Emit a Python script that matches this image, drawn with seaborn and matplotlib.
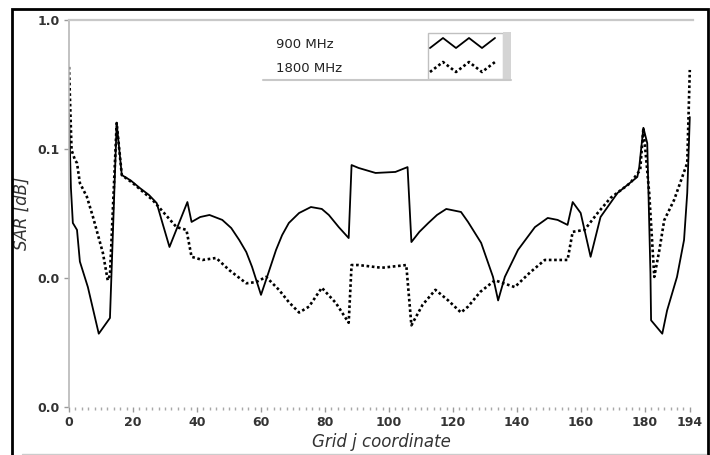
import numpy as np
import pandas as pd
import matplotlib
matplotlib.use("Agg")
import matplotlib.pyplot as plt
from matplotlib.ticker import FixedLocator, MultipleLocator, FuncFormatter, NullLocator
from matplotlib.lines import Line2D
from matplotlib.patches import Rectangle
import seaborn as sns

# SAR along the grid j coordinate for the two frequencies
j_900 = [0, 0.6, 1.2, 2.5, 3.4, 5.9, 9.3, 12.8, 14.9, 16.5, 19.3, 22.1, 25.0, 27.4,
         29.2, 31.4, 37.0, 38.3, 41.0, 43.9, 47.9, 50.7, 53.2, 55.4, 57.2, 60.0,
         61.9, 64.7, 66.6, 68.7, 71.9, 75.6, 79.0, 81.2, 84.3, 87.4, 88.3, 90.5,
         95.8, 102.0, 105.8, 107.0, 109.5, 112.3, 115.0, 117.9, 122.5, 124.7,
         128.8, 132.5, 134.1, 136.2, 140.3, 145.6, 149.6, 152.7, 155.8, 157.4,
         159.9, 163.0, 166.1, 171.4, 177.6, 178.2, 179.5, 180.7, 181.7, 181.9,
         185.4, 186.9, 190.0, 192.2, 193.2, 194]
sar_900 = [0.19, 0.05, 0.0267, 0.0236, 0.0134, 0.0085, 0.0037, 0.0049, 0.159, 0.0628,
           0.057, 0.0499, 0.044, 0.0381, 0.0267, 0.0174, 0.0388, 0.0272, 0.0297,
           0.0308, 0.0282, 0.0244, 0.0197, 0.0159, 0.0122, 0.0074, 0.0102, 0.0165,
           0.0215, 0.0267, 0.0319, 0.0355, 0.0343, 0.0308, 0.0248, 0.0204, 0.0751,
           0.0713, 0.0652, 0.0664, 0.0724, 0.0190, 0.0228, 0.0267, 0.0308, 0.0343,
           0.0325, 0.0272, 0.0187, 0.0102, 0.0067, 0.0102, 0.0165, 0.0248, 0.0292,
           0.0282, 0.0258, 0.0388, 0.0319, 0.0146, 0.0297, 0.0456, 0.0607, 0.0724,
           0.146, 0.111, 0.0109, 0.0047, 0.0037, 0.0056, 0.0102, 0.0197, 0.0456,
           0.177]

j_1800 = [0, 0.8, 1.9, 2.5, 3.4, 5.6, 7.5, 10.6, 12.1, 12.8, 14.9, 16.5, 19.9, 26.1,
          33.6, 36.7, 38.3, 41.7, 46.0, 50.1, 55.4, 58.5, 61.6, 65.6, 68.7, 71.9,
          75.0, 79.0, 83.4, 87.4, 88.3, 90.5, 97.7, 105.4, 107.0, 110.5, 114.5,
          118.5, 122.5, 124.7, 128.5, 133.1, 139.3, 144.0, 148.7, 155.8, 157.4,
          161.1, 165.2, 169.2, 175.4, 178.5, 179.5, 181.3, 182.9, 184.5, 186.0,
          189.1, 193.2, 194]
sar_1800 = [0.433, 0.098, 0.082, 0.0778, 0.0545, 0.0425, 0.0297, 0.0156, 0.0096,
            0.0105, 0.159, 0.0628, 0.0545, 0.0403, 0.0248, 0.0236, 0.0146, 0.0138,
            0.0143, 0.0115, 0.0091, 0.0093, 0.0102, 0.0081, 0.0065, 0.0054, 0.0060,
            0.0084, 0.0064, 0.0045, 0.0126, 0.0126, 0.0120, 0.0126, 0.0043, 0.0062,
            0.0081, 0.0067, 0.0054, 0.0060, 0.0078, 0.0096, 0.0085, 0.0110, 0.0138,
            0.0138, 0.0228, 0.0236, 0.0319, 0.0417, 0.0545, 0.0687, 0.146, 0.046,
            0.0102, 0.0165, 0.028, 0.0403, 0.078, 0.41]

series_labels = ["900 MHz", "1800 MHz"]
x_ticks = [0, 20, 40, 60, 80, 100, 120, 140, 160, 180, 194]
y_ticks = [0.001, 0.01, 0.1, 1.0]

sns.set_style("white")
plt.rcParams["font.family"] = ["DejaVu Sans"]

W, H = 710, 455
fig = plt.figure(figsize=(W / 100, H / 100), dpi=100)


def fpos(x, y):
    """Pixel position on the canvas -> figure fraction."""
    return x / W, 1 - y / H


ax = fig.add_axes([69 / W, 1 - 407 / H, (693 - 69) / W, (407 - 20) / H])

df_900 = pd.DataFrame({"j": j_900, "sar": sar_900})
df_1800 = pd.DataFrame({"j": j_1800, "sar": sar_1800})

sns.lineplot(data=df_900, x="j", y="sar", ax=ax, color="black", linewidth=1.3,
             sort=False, estimator=None)
sns.lineplot(data=df_1800, x="j", y="sar", ax=ax, color="black", linewidth=1.9,
             linestyle=(0, (1, 1)), sort=False, estimator=None)

ax.set_yscale("log")
ax.set_ylim(0.001, 1.0)
ax.set_xlim(0, 195)

ax.yaxis.set_major_locator(FixedLocator(y_ticks))
ax.yaxis.set_minor_locator(NullLocator())
ax.yaxis.set_major_formatter(FuncFormatter(lambda v, p: f"{v:.1f}"))
ax.xaxis.set_major_locator(FixedLocator(x_ticks))
ax.xaxis.set_minor_locator(MultipleLocator(2))
ax.xaxis.set_major_formatter(FuncFormatter(lambda v, p: f"{v:.0f}"))

ax.tick_params(axis="both", which="major", direction="out", length=3.5, width=1,
               color="#9a9a9a", labelsize=9, labelcolor="#333333", pad=3,
               left=True, bottom=True)
ax.tick_params(axis="x", which="minor", direction="out", length=2, width=1,
               color="#a8a8a8", bottom=True)
for lbl in ax.get_xticklabels() + ax.get_yticklabels():
    lbl.set_fontweight("bold")

ax.spines["right"].set_visible(False)
ax.spines["bottom"].set_visible(False)
ax.spines["left"].set_color("#b8b8b8")
ax.spines["left"].set_linewidth(1.2)
ax.spines["top"].set_color("#c8c8c8")
ax.spines["top"].set_linewidth(1.6)

ax.set_xlabel("Grid j coordinate", fontstyle="italic", fontsize=12,
              color="#333333", labelpad=3)
ax.set_ylabel("SAR [dB]", fontstyle="italic", fontsize=12,
              color="#333333", labelpad=5)

# Legend panel: labels on the left, line samples in a boxed strip on the right
fig.add_artist(Line2D(*zip(fpos(263, 80), fpos(511, 80)), color="#c8c8c8", lw=1.5))
x0, y0 = fpos(428, 79)
x1, y1 = fpos(503, 33)
fig.add_artist(Rectangle((x0, y0), x1 - x0, y1 - y0, facecolor="white",
                         edgecolor="#c0c0c0", lw=1))
sx0, sy0 = fpos(503, 80)
sx1, sy1 = fpos(511, 32)
fig.add_artist(Rectangle((sx0, sy0), sx1 - sx0, sy1 - sy0, facecolor="#d4d4d4",
                         edgecolor="none"))

zig_x = np.linspace(430, 495, 6)
for label, ty, hi, lo, style, lw in [
        (series_labels[0], 44, 38, 48, "-", 1.3),
        (series_labels[1], 69, 62, 72, (0, (1, 1)), 1.9)]:
    fig.text(*fpos(276, ty), label, fontsize=9.5, color="#222222",
             ha="left", va="center")
    zy = [lo if i % 2 == 0 else hi for i in range(len(zig_x))]
    pts = [fpos(xx, yy) for xx, yy in zip(zig_x, zy)]
    fig.add_artist(Line2D([p[0] for p in pts], [p[1] for p in pts],
                          color="black", lw=lw, linestyle=style))

# Outer frame
fx0, fy0 = fpos(12, 458)
fx1, fy1 = fpos(708, 9)
fig.add_artist(Rectangle((fx0, fy0), fx1 - fx0, fy1 - fy0, fill=False,
                         edgecolor="black", lw=2))
fig.add_artist(Line2D(*zip(fpos(22, 453.5), fpos(706, 453.5)), color="#cccccc", lw=1))

fig.savefig("out.png", dpi=100)
